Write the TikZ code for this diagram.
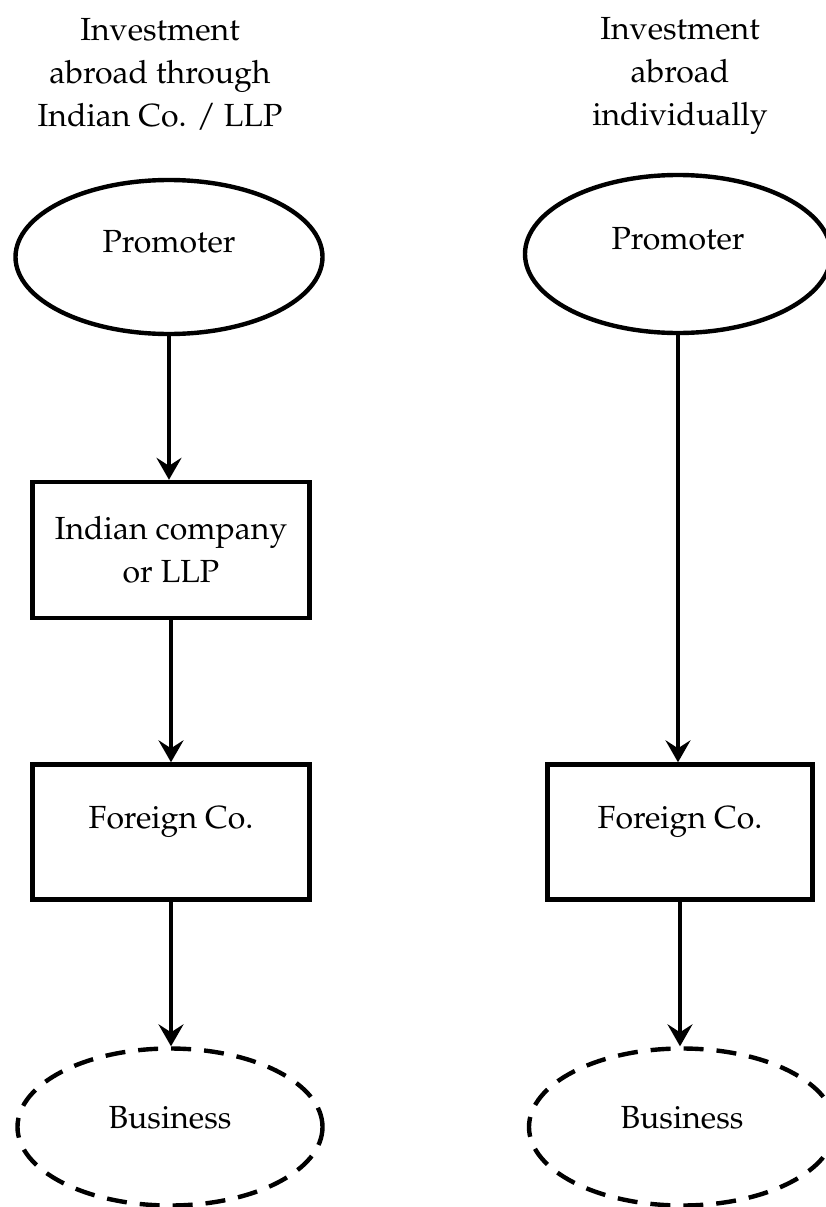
\documentclass[tikz,border=0pt]{standalone}
\usepackage[T1]{fontenc}
\renewcommand{\rmdefault}{ppl}
\usetikzlibrary{shapes.geometric,arrows.meta}
\begin{document}
\begin{tikzpicture}[x=1pt,y=1pt,
  every node/.style={font=\fontsize{32}{43}\selectfont, inner sep=0pt},
  title/.style={align=center},
  oval/.style={ellipse, draw, line width=4.4pt, text height=20pt, text depth=30pt},
  dashoval/.style={oval, dash pattern=on 20pt off 13pt, text depth=18pt},
  boxnode/.style={rectangle, draw, line width=4.4pt, align=center},
  link/.style={line width=4.4pt, -{Stealth[length=22pt,width=25pt,inset=8pt]}}
]
\useasboundingbox (0,0) rectangle (825,-1207);
\node[title] (lt) at (160,-74) {Investment\\abroad through\\Indian Co. / LLP};
\node[title] (rt) at (680,-76) {Investment\\abroad\\individually};

\node[oval, minimum width=307pt, minimum height=154pt] (lp) at (169,-257) {Promoter};
\node[oval, minimum width=306pt, minimum height=158pt] (rp) at (678,-254) {Promoter};

\node[boxnode, minimum width=277pt, minimum height=136pt] (li) at (171,-550) {Indian company\\or LLP};
\node[boxnode, minimum width=277pt, minimum height=135pt, text height=20pt, text depth=28pt] (lf) at (171,-832) {Foreign Co.};
\node[boxnode, minimum width=265pt, minimum height=135pt, text height=20pt, text depth=28pt] (rf) at (680,-832) {Foreign Co.};

\node[dashoval, minimum width=305pt, minimum height=157pt] (lb) at (170,-1127) {Business};
\node[dashoval, minimum width=306pt, minimum height=157pt] (rb) at (682,-1127) {Business};

\draw[link] (lp.south) -- (lp.south |- li.north);
\draw[link] (li.south) -- (li.south |- lf.north);
\draw[link] (lf.south) -- (lf.south |- lb.north);
\draw[link] (rp.south) -- (rp.south |- rf.north);
\draw[link] (rf.south) -- (rf.south |- rb.north);
\end{tikzpicture}
\end{document}
